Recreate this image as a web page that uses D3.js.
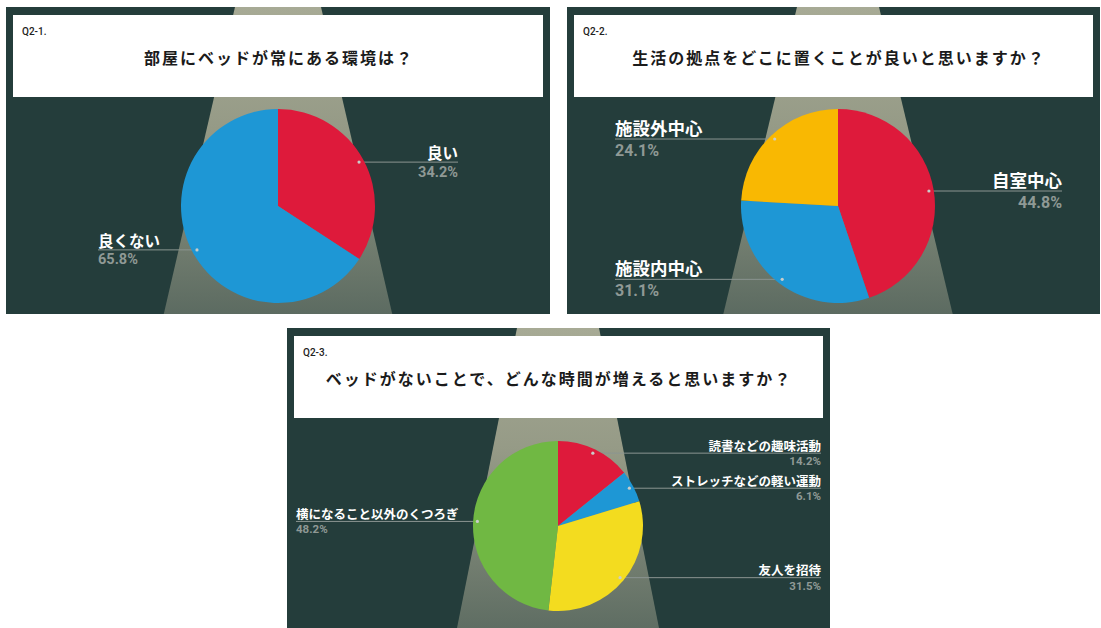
<!DOCTYPE html>
<html>
<head>
<meta charset="utf-8">
<script src="https://cdn.jsdelivr.net/npm/d3@7"></script>
<style>
body { margin: 0; background: #fff; }
svg { display: block; }
.panel-bg { fill: #243d3b; }
.box { fill: #fff; }
.qcode { font-family: Roboto, "Noto Sans", sans-serif; font-size: 10px; font-weight: 500; fill: #222; }
.title { font-family: "Noto Sans CJK JP", sans-serif; font-weight: 700; font-size: 16px; letter-spacing: 2px; fill: #1b1b1b; }
.leader { stroke: #8b9591; stroke-width: 1; }
.dot { fill: #c9cdca; }
.name { font-family: "Noto Sans CJK JP", sans-serif; font-weight: 700; fill: #fff; }
.pct { font-family: Roboto, "Noto Sans", sans-serif; font-weight: 700; fill: #8f9995; }
</style>
</head>
<body>
<svg width="1101" height="628"></svg>
<script>
// survey data
var q1Code = "Q2-1.";
var q1Title = "部屋にベッドが常にある環境は？";
var q1Labels = ["良い", "良くない"];
var q1Values = [34.2, 65.8];

var q2Code = "Q2-2.";
var q2Title = "生活の拠点をどこに置くことが良いと思いますか？";
var q2Labels = ["自室中心", "施設内中心", "施設外中心"];
var q2Values = [44.8, 31.1, 24.1];

var q3Code = "Q2-3.";
var q3Title = "ベッドがないことで、どんな時間が増えると思いますか？";
var q3Labels = ["読書などの趣味活動", "ストレッチなどの軽い運動", "友人を招待", "横になること以外のくつろぎ"];
var q3Values = [14.2, 6.1, 31.5, 48.2];

var q1Colors = ["#de1a3b", "#1e97d5"];
var q2Colors = ["#de1a3b", "#1e97d5", "#f9b802"];
var q3Colors = ["#de1a3b", "#1e97d5", "#f3dc1f", "#70b843"];

// layout of each card
var layout1 = { x: 6, y: 7, w: 544, h: 307, cx: 278, cy: 206, r: 97,
    beamTop: 43, beamSlope: 0.232, left: 180, right: 180,
    nameSize: 15.5, pctSize: 14.5, nameOff: -3, pctOff: 14.5 };
var layout2 = { x: 567, y: 7, w: 533, h: 307, cx: 838, cy: 206, r: 97,
    beamTop: 41, beamSlope: 0.24, left: 223, right: 224,
    nameSize: 17.5, pctSize: 16, nameOff: -4.5, pctOff: 16.5 };
var layout3 = { x: 287, y: 328, w: 543, h: 309, cx: 558, cy: 526, r: 85,
    beamTop: 41, beamSlope: 0.2, left: 262, right: 263,
    nameSize: 12.5, pctSize: 11.5, nameOff: -2.5, pctOff: 12 };

var fmt = d3.format(".1f");

function drawPanel(svg, p, code, title, labels, values, colors) {
    var g = svg.append("g");

    g.append("rect")
        .attr("class", "panel-bg")
        .attr("x", p.x).attr("y", p.y)
        .attr("width", p.w).attr("height", p.h);

    // light beam behind the pie
    var top = p.y, bot = p.y + p.h;
    var hw0 = p.beamTop, hw1 = p.beamTop + p.beamSlope * p.h;
    g.append("path")
        .attr("fill", "url(#beam)")
        .attr("d", "M" + (p.cx - hw0) + "," + top + "L" + (p.cx + hw0) + "," + top +
            "L" + (p.cx + hw1) + "," + bot + "L" + (p.cx - hw1) + "," + bot + "Z");

    var bx = p.x + 7, by = p.y + 8;
    g.append("rect")
        .attr("class", "box")
        .attr("x", bx).attr("y", by)
        .attr("width", p.w - 14).attr("height", 82);

    g.append("text")
        .attr("class", "qcode")
        .attr("x", bx + 9).attr("y", by + 20)
        .text(code);

    g.append("text")
        .attr("class", "title")
        .attr("x", p.cx + 1).attr("y", by + 49)
        .attr("text-anchor", "middle")
        .text(title);

    var pie = d3.pie().sort(null).value(function(d) { return d; });
    var arcs = pie(values);
    var arc = d3.arc().innerRadius(0).outerRadius(p.r);
    var dotArc = d3.arc().innerRadius(p.r * 0.95).outerRadius(p.r * 0.95);

    var pg = g.append("g").attr("transform", "translate(" + p.cx + "," + p.cy + ")");

    var side = function(a) { return (a.startAngle + a.endAngle) / 2 < Math.PI ? 1 : -1; };
    var labelX = function(a) { return side(a) > 0 ? p.right : -p.left; };

    pg.selectAll("line.leader")
        .data(arcs)
        .enter().append("line")
        .attr("class", "leader")
        .attr("x1", function(a) { return dotArc.centroid(a)[0]; })
        .attr("y1", function(a) { return dotArc.centroid(a)[1]; })
        .attr("x2", labelX)
        .attr("y2", function(a) { return dotArc.centroid(a)[1]; });

    pg.selectAll("path.slice")
        .data(arcs)
        .enter().append("path")
        .attr("class", "slice")
        .attr("d", arc)
        .attr("fill", function(a, i) { return colors[i]; });

    pg.selectAll("circle.dot")
        .data(arcs)
        .enter().append("circle")
        .attr("class", "dot")
        .attr("r", 1.6)
        .attr("cx", function(a) { return dotArc.centroid(a)[0]; })
        .attr("cy", function(a) { return dotArc.centroid(a)[1]; });

    var anchor = function(a) { return side(a) > 0 ? "end" : "start"; };

    pg.selectAll("text.name")
        .data(arcs)
        .enter().append("text")
        .attr("class", "name")
        .attr("font-size", p.nameSize)
        .attr("text-anchor", anchor)
        .attr("x", labelX)
        .attr("y", function(a) { return dotArc.centroid(a)[1] + p.nameOff; })
        .text(function(a, i) { return labels[i]; });

    pg.selectAll("text.pct")
        .data(arcs)
        .enter().append("text")
        .attr("class", "pct")
        .attr("font-size", p.pctSize)
        .attr("text-anchor", anchor)
        .attr("x", labelX)
        .attr("y", function(a) { return dotArc.centroid(a)[1] + p.pctOff; })
        .text(function(a) { return fmt(a.data) + "%"; });
}

function main() {
    var svg = d3.select("svg");
    var grad = svg.append("defs").append("linearGradient")
        .attr("id", "beam")
        .attr("x1", 0).attr("y1", 0).attr("x2", 0).attr("y2", 1);
    grad.append("stop").attr("offset", "0%").attr("stop-color", "#a7aa95");
    grad.append("stop").attr("offset", "40%").attr("stop-color", "#959a86");
    grad.append("stop").attr("offset", "100%").attr("stop-color", "#5c6b61");

    drawPanel(svg, layout1, q1Code, q1Title, q1Labels, q1Values, q1Colors);
    drawPanel(svg, layout2, q2Code, q2Title, q2Labels, q2Values, q2Colors);
    drawPanel(svg, layout3, q3Code, q3Title, q3Labels, q3Values, q3Colors);
}

main();
</script>
</body>
</html>
